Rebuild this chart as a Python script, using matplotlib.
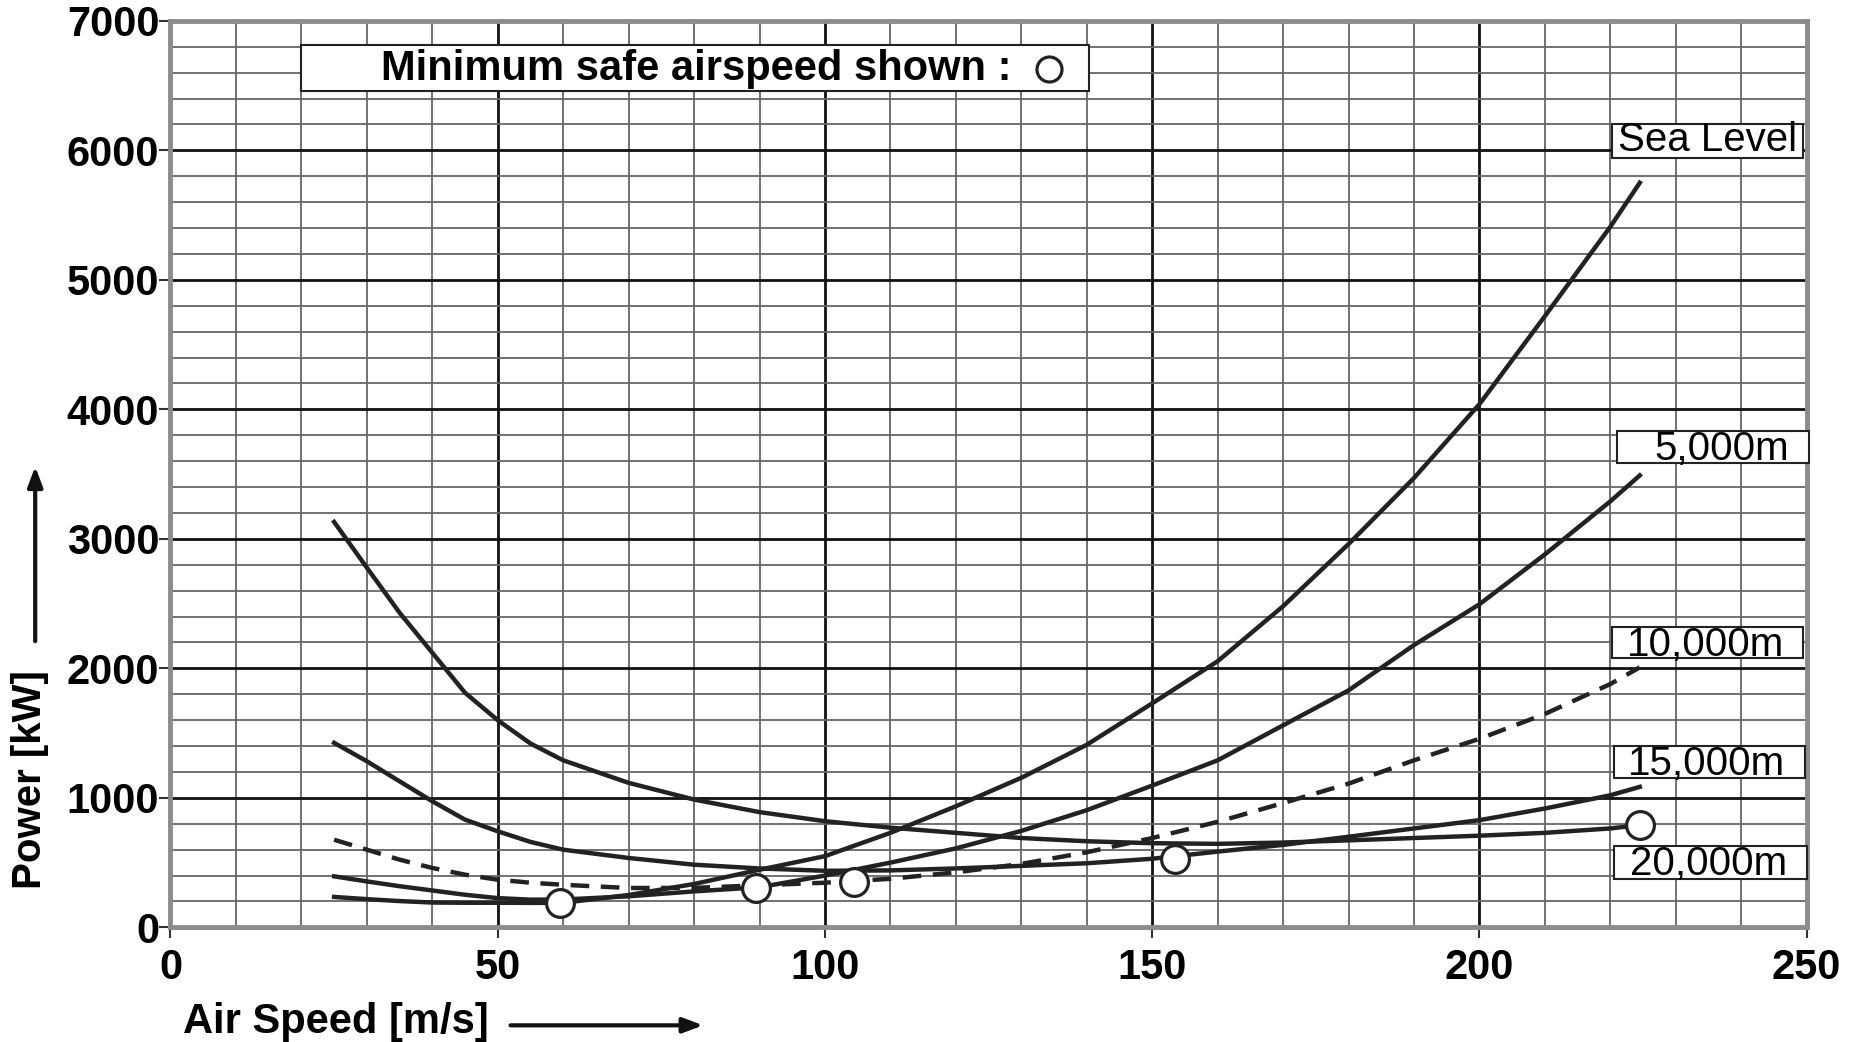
import numpy as np
import matplotlib.pyplot as plt
from matplotlib.patches import Rectangle

plt.rcParams['font.family'] = ['Liberation Sans', 'DejaVu Sans']

# air speed [m/s] at which the curves were read
speed = [25, 30, 35, 40, 45, 50, 55, 60, 70, 80, 90, 100, 110, 120, 130,
         140, 150, 160, 170, 180, 190, 200, 210, 220, 224.5]

# power required [kW]
p_sea = [235, 218, 203, 192, 190, 190, 189, 190, 250, 335, 445, 550, 730,
         935, 1155, 1410, 1730, 2055, 2480, 2960, 3470, 4040, 4720, 5410, 5750]
p_5k = [394, 355, 318, 285, 252, 226, 214, 215, 240, 278, 310, 400, 500,
        610, 745, 905, 1095, 1290, 1560, 1830, 2180, 2495, 2880, 3290, 3490]
p_10k = [677, 600, 523, 459, 407, 368, 345, 329, 304, 305, 325, 345, 375,
         425, 490, 580, 690, 815, 960, 1110, 1290, 1456, 1648, 1879, 2008]
p_15k = [1425, 1283, 1128, 974, 832, 742, 660, 600, 536, 484, 455, 437, 440,
         455, 475, 495, 530, 585, 637, 700, 764, 828, 918, 1020, 1085]
p_20k = [3131, 2778, 2430, 2121, 1812, 1600, 1420, 1290, 1116, 987, 890, 820,
         770, 730, 690, 665, 650, 645, 655, 672, 690, 708, 730, 764, 790]

# minimum safe airspeed points
min_speed = [59.5, 89.5, 104.5, 153.5, 224.5]
min_power = [190, 305, 350, 530, 790]

names = ['Sea Level', '5,000m', '10,000m', '15,000m', '20,000m']

fig = plt.figure(figsize=(18.53, 10.42), dpi=100)
ax = fig.add_axes([0.092, 0.11, 0.883, 0.87])

lc = '#222222'
ax.plot(speed, p_sea, color=lc, lw=3.2, zorder=4)
ax.plot(speed, p_5k, color=lc, lw=3.2, zorder=4)
ax.plot(speed, p_10k, color=lc, lw=3.2, ls=(0, (4.2, 2.6)), zorder=4)
ax.plot(speed, p_15k, color=lc, lw=3.2, zorder=4)
ax.plot(speed, p_20k, color=lc, lw=3.2, zorder=4)
ax.plot(min_speed, min_power, ls='none', marker='o', ms=20, mfc='white',
        mec=lc, mew=2.3, zorder=6)

ax.set_xlim(0, 250)
ax.set_ylim(0, 7000)
ax.set_xticks(np.arange(0, 251, 50))
ax.set_xticks(np.arange(0, 251, 10), minor=True)
ax.set_yticks(np.arange(0, 7001, 1000))
ax.set_yticks(np.arange(0, 7001, 200), minor=True)
ax.grid(which='major', color='#111111', lw=2.0, zorder=1)
ax.grid(which='minor', color='#666666', lw=1.3, zorder=1)
ax.set_axisbelow(True)

ax.tick_params(which='major', length=8, width=1.5, color='#333333',
               labelsize=30)
ax.tick_params(axis='x', which='major', pad=7)
ax.tick_params(axis='y', which='major', pad=0)
ax.tick_params(which='minor', length=0)
for t in ax.get_xticklabels() + ax.get_yticklabels():
    t.set_fontweight('bold')

for s in ax.spines.values():
    s.set_color('#8c8c8c')
    s.set_linewidth(3.5)

# label boxes to the right
boxes = [(220.2, 5944, 29.2, 263, 'Sea Level'),
         (221.0, 3584, 29.3, 248, '5,000m'),
         (220.2, 2077, 29.3, 240, '10,000m'),
         (220.5, 1157, 29.2, 240, '15,000m'),
         (220.6, 376, 29.4, 256, '20,000m')]
for bx, by, bw, bh, txt in boxes:
    ax.add_patch(Rectangle((bx, by), bw, bh, facecolor='white',
                           edgecolor='#222222', lw=1.5, zorder=5,
                           clip_on=False))
    if txt == 'Sea Level':
        ax.text(bx + bw / 2, by + bh / 2 + 5, txt, ha='center', va='center',
                fontsize=29, zorder=7, clip_on=False)
    else:
        ax.text(bx + bw - 3.0, by + bh / 2 - 15, txt, ha='right',
                va='center', fontsize=29, zorder=7, clip_on=False)

# legend box for minimum safe airspeed
ax.add_patch(Rectangle((20.0, 6455), 120.4, 355, facecolor='white',
                       edgecolor='#222222', lw=1.5, zorder=5))
ax.text(128.5, 6625, 'Minimum safe airspeed shown :', ha='right',
        va='center', fontsize=30, fontweight='bold', zorder=7)
ax.plot([134.2], [6625], ls='none', marker='o', ms=18, mfc='white',
        mec=lc, mew=2.3, zorder=7)

# axis labels with arrows
fig.text(0.099, 0.019, 'Air Speed [m/s]', ha='left', va='center',
         fontsize=30, fontweight='bold')
fig.text(0.016, 0.252, 'Power [kW]', ha='center', va='center',
         fontsize=29, fontweight='bold', rotation=90)
fig.add_artist(plt.Annotation('', xy=(0.381, 0.016), xytext=(0.274, 0.016),
                              xycoords='figure fraction',
                              arrowprops=dict(arrowstyle='-|>,head_length=1.2,head_width=0.45',
                                              color='#111111', lw=3)))
fig.add_artist(plt.Annotation('', xy=(0.019, 0.555), xytext=(0.019, 0.382),
                              xycoords='figure fraction',
                              arrowprops=dict(arrowstyle='-|>,head_length=1.2,head_width=0.45',
                                              color='#111111', lw=3)))

fig.savefig('out.png', dpi=100)
